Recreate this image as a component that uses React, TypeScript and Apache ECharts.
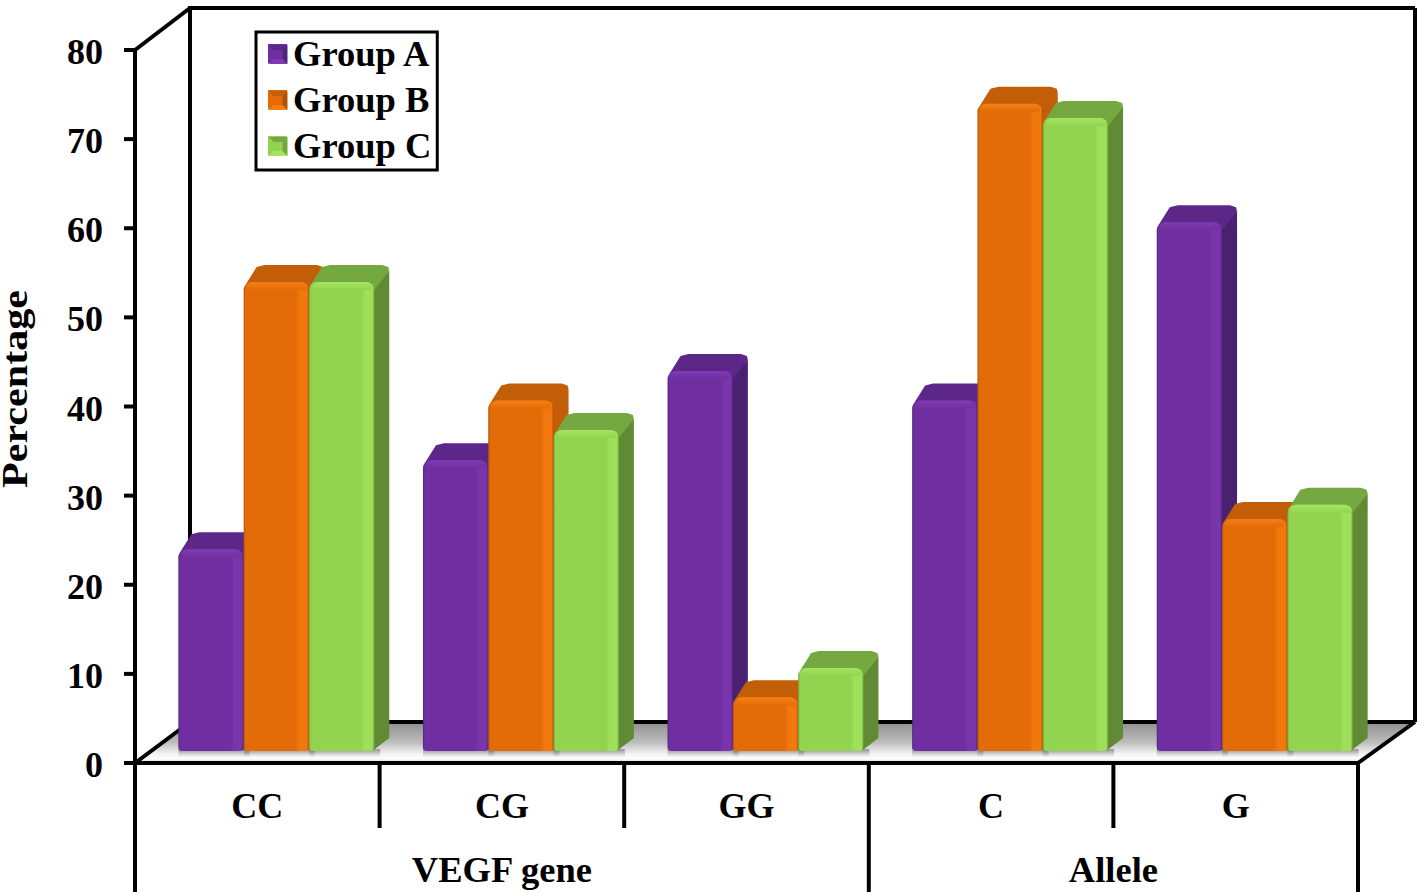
import React, { useEffect, useRef } from "react";
import * as echarts from "echarts";

const categories = ["CC", "CG", "GG", "C", "G"];
const seriesNames = ["Group A", "Group B", "Group C"];
const groupA = [23.3, 33.3, 43.3, 40, 60];
const groupB = [53.3, 40, 6.7, 73.3, 26.7];
const groupC = [53.3, 36.7, 10, 71.7, 28.3];
const yTicks = { min: 0, max: 80, interval: 10 };
const yTitle = "Percentage";
const outerLabels = ["VEGF gene", "Allele"];

const palette = [
  { front: "#702FA0", light: "#7A34AC", dark: "#53257A", side: "#4A2070", top: "#5C2788", bevel: "#7F3BB4" },
  { front: "#E36C09", light: "#F2780D", dark: "#B05508", side: "#C35D08", top: "#C25E07", bevel: "#F67F14" },
  { front: "#92D34F", light: "#9EE059", dark: "#74A83F", side: "#618A35", top: "#75A840", bevel: "#A4E660" },
];

const W = 1424, H = 892;
const L = 135, R = 1358, T = 50, B = 763;
const DX = 55, DY = 41;
const FONT = '"Liberation Serif", "Times New Roman", serif';
const INK = "#000";

const line = (x1: number, y1: number, x2: number, y2: number, w = 4) => ({
  type: "line",
  z: 1,
  shape: { x1, y1, x2, y2 },
  style: { stroke: INK, lineWidth: w },
});

function makeRender(idx: number) {
  const c = palette[idx];
  return (_p: any, api: any) => {
    const band = api.size([1, 0])[0];
    const w = band * 0.267;
    const pt = api.coord([api.value(0), api.value(1)]);
    const base = api.coord([api.value(0), 0])[1] - 12;
    const x0 = pt[0] + 19 + (idx - 1) * w - w / 2;
    const x1 = x0 + w;
    const y = pt[1] - 6;
    const dx = 15, dy = 17;
    return {
      type: "group",
      children: [
        {
          type: "rect",
          shape: { x: x0, y: base - 2, width: w + 6, height: 8 },
          style: {
            fill: new echarts.graphic.LinearGradient(0, 0, 0, 1, [
              { offset: 0, color: "rgba(90,90,90,0.55)" },
              { offset: 1, color: "rgba(90,90,90,0)" },
            ]),
          },
        },
        {
          type: "polygon",
          shape: { points: [[x1 - 2, y + 5], [x1 + dx, y - dy + 6], [x1 + dx, base - 13], [x1 - 2, base]] },
          style: { fill: c.side },
        },
        {
          type: "polygon",
          shape: {
            points: [[x0, y + 7], [x0 + 3, y + 1], [x0 + dx - 2, y - dy + 2], [x0 + dx + 6, y - dy], [x1 + dx - 7, y - dy], [x1 + dx - 1, y - dy + 2], [x1 + dx, y - dy + 6], [x1, y + 8]],
          },
          style: { fill: c.top },
        },
        {
          type: "rect",
          shape: { x: x0, y, width: w, height: base - y, r: [8, 8, 4, 4] },
          style: {
            fill: new echarts.graphic.LinearGradient(0, 0, 1, 0, [
              { offset: 0, color: c.dark },
              { offset: 0.03, color: c.front },
              { offset: 0.8, color: c.front },
              { offset: 0.86, color: c.light },
              { offset: 0.97, color: c.light },
              { offset: 1, color: c.dark },
            ]),
          },
        },
        {
          type: "rect",
          shape: { x: x0 + 3, y: y, width: w - 6, height: 8, r: [6, 6, 0, 0] },
          style: {
            fill: new echarts.graphic.LinearGradient(0, 0, 0, 1, [
              { offset: 0, color: c.bevel },
              { offset: 1, color: c.front },
            ]),
          },
        },
      ],
    };
  };
}

export default function App() {
  const ref = useRef<HTMLDivElement>(null);
  useEffect(() => {
    document.body.style.margin = "0";
    document.body.style.overflow = "hidden";
    const chart = echarts.init(ref.current!, undefined, { renderer: "svg" });
    const band = (R - L) / categories.length;
    const values = [groupA, groupB, groupC];
    const legendBevels = palette.flatMap((c, i) => {
      const x = 268.5, y = 45 + i * 46, s = 19, m = 5;
      return [
        { type: "polygon", z: 20, shape: { points: [[x, y], [x + s, y], [x + s - m, y + m], [x + m, y + m]] }, style: { fill: c.top } },
        { type: "polygon", z: 20, shape: { points: [[x, y + s], [x + s, y + s], [x + s - m, y + s - m], [x + m, y + s - m]] }, style: { fill: c.bevel } },
        { type: "polygon", z: 20, shape: { points: [[x, y], [x + m, y + m], [x + m, y + s - m], [x, y + s]] }, style: { fill: c.front } },
        { type: "polygon", z: 20, shape: { points: [[x + s, y], [x + s - m, y + m], [x + s - m, y + s - m], [x + s, y + s]] }, style: { fill: c.dark } },
      ];
    });
    const yTickLines = Array.from({ length: 9 }, (_, i) => {
      const y = B - ((B - T) * i) / 8;
      return line(L - 11, y, L, y);
    });
    const xSeparators = [1, 2, 4].map((k) => line(L + band * k, B, L + band * k, B + 65));
    chart.setOption({
      animation: false,
      backgroundColor: "#fff",
      grid: { left: L, right: W - R, top: T, bottom: H - B, containLabel: false },
      legend: {
        left: 256,
        top: 32,
        orient: "vertical",
        data: seriesNames,
        icon: "rect",
        itemWidth: 19,
        itemHeight: 19,
        itemGap: 7,
        padding: [2, 6, 5, 12],
        borderColor: INK,
        borderWidth: 3,
        backgroundColor: "#fff",
        textStyle: { fontFamily: FONT, fontWeight: "bold", fontSize: 36.5, color: INK, padding: [0, 0, 0, 1], lineHeight: 39 },
        z: 10,
      },
      xAxis: {
        type: "category",
        data: categories,
        axisLine: { lineStyle: { color: INK, width: 4 } },
        axisTick: { show: false },
        axisLabel: { fontFamily: FONT, fontWeight: "bold", fontSize: 36, color: INK, margin: 25 },
        splitLine: { show: false },
      },
      yAxis: {
        type: "value",
        ...yTicks,
        axisLine: { show: true, lineStyle: { color: INK, width: 4 } },
        axisTick: { show: false },
        axisLabel: { fontFamily: FONT, fontWeight: "bold", fontSize: 36, color: INK, margin: 32, verticalAlign: "top", lineHeight: 4 },
        splitLine: { show: false },
      },
      graphic: {
        elements: [
          {
            type: "polygon",
            z: 0,
            shape: { points: [[L, B], [L + DX, B - DY], [R + DX + 2, B - DY], [R, B]] },
            style: {
              fill: new echarts.graphic.LinearGradient(0, 0, 0, 1, [
                { offset: 0, color: "#8f8f8f" },
                { offset: 0.5, color: "#bdbdbd" },
                { offset: 0.78, color: "#f4f4f4" },
                { offset: 0.9, color: "#fdfdfd" },
                { offset: 1, color: "#cfcfcf" },
              ]),
            },
          },
          line(L, T, L + DX, T - 42),
          line(L + DX, T - 42, L + DX, B - DY),
          line(L + DX - 2, T - 42, R + DX + 2, T - 42),
          line(R + DX + 2, T - 42, R + DX + 2, B - DY),
          line(L + DX, B - DY, R + DX + 2, B - DY),
          line(L, B, L + DX, B - DY),
          line(R, B, R + DX + 2, B - DY),
          line(L, B, L, H),
          line(L + band * 3, B, L + band * 3, H),
          line(R, B, R, H),
          ...yTickLines,
          ...xSeparators,
          {
            type: "text",
            z: 5,
            x: 31,
            y: 389,
            rotation: Math.PI / 2,
            scaleX: 1.17,
            style: { text: yTitle, font: `bold 36px ${FONT}`, fill: INK, align: "center", verticalAlign: "bottom", lineHeight: 32 },
          },
          {
            type: "text",
            z: 5,
            x: L + band * 1.5,
            y: 869,
            style: { text: outerLabels[0], font: `bold 36.5px ${FONT}`, fill: INK, align: "center", verticalAlign: "middle" },
          },
          {
            type: "text",
            z: 5,
            x: L + band * 4,
            y: 869,
            style: { text: outerLabels[1], font: `bold 36.5px ${FONT}`, fill: INK, align: "center", verticalAlign: "middle" },
          },
          ...legendBevels,
        ],
      },
      series: seriesNames.map((name, i) => ({
        name,
        type: "custom",
        z: 3 + i,
        clip: false,
        itemStyle: { color: palette[i].front },
        encode: { x: 0, y: 1 },
        renderItem: makeRender(i),
        data: values[i].map((v, k) => [k, v]),
      })),
    });
    return () => chart.dispose();
  }, []);
  return <div ref={ref} style={{ position: "absolute", left: 0, top: 0, width: W, height: H }} />;
}
